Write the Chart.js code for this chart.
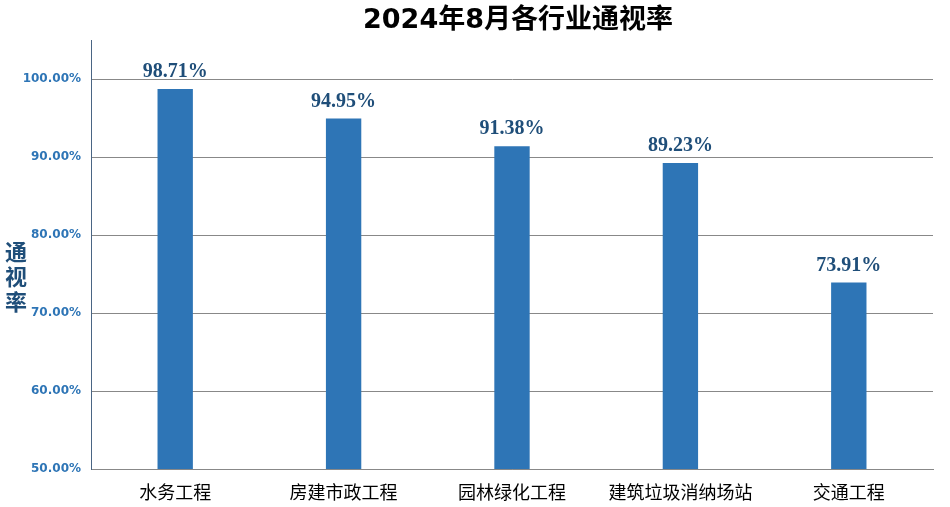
<!DOCTYPE html>
<html>
<head>
<meta charset="utf-8">
<script src="https://cdn.jsdelivr.net/npm/chart.js@4/dist/chart.umd.min.js"></script>
<style>
  html, body { margin: 0; padding: 0; background: #fff; }
  #wrap { width: 950px; height: 507px; }
</style>
</head>
<body>
<div id="wrap"><canvas id="rate"></canvas></div>
<script>
const categories = ["水务工程", "房建市政工程", "园林绿化工程", "建筑垃圾消纳场站", "交通工程"];
const rates = [98.71, 94.95, 91.38, 89.23, 73.91];
const yTicks = [50, 60, 70, 80, 90, 100];
const chartTitle = "2024年8月各行业通视率";

const ctx = document.getElementById("rate").getContext("2d");

// value labels over each bar
const barLabels = {
  id: "barLabels",
  afterDatasetsDraw(chart) {
    const c = chart.ctx;
    const meta = chart.getDatasetMeta(0);
    c.save();
    c.font = "bold 20px 'Liberation Serif'";
    c.fillStyle = "#1F4E79";
    c.textAlign = "center";
    c.textBaseline = "bottom";
    meta.data.forEach((bar, i) => {
      c.fillText(rates[i].toFixed(2) + "%", bar.x, bar.y - 7);
    });
    c.restore();
  },
};

// stacked axis title on the left + chart title (offset to the right like the original)
const extraText = {
  id: "extraText",
  afterDraw(chart) {
    const c = chart.ctx;
    c.save();
    c.font = "bold 22px 'Noto Sans CJK SC'";
    c.fillStyle = "#1F4E79";
    c.textAlign = "center";
    c.textBaseline = "middle";
    ["通", "视", "率"].forEach((ch, i) => {
      c.fillText(ch, 16, 252 + i * 25);
    });
    c.font = "bold 27px 'DejaVu Sans', 'Noto Sans CJK SC'";
    c.fillStyle = "#000";
    c.fillText(chartTitle, 518, 21);
    c.restore();
  },
};

new Chart(ctx, {
  type: "bar",
  data: {
    labels: categories,
    datasets: [
      {
        data: rates,
        backgroundColor: "#2E75B6",
        barPercentage: 0.21,
        categoryPercentage: 1,
      },
    ],
  },
  options: {
    responsive: true,
    maintainAspectRatio: false,
    animation: false,
    layout: { padding: { left: 0, right: 17, top: 40, bottom: 0 } },
    plugins: {
      legend: { display: false },
      tooltip: { enabled: false },
    },
    scales: {
      x: {
        grid: { display: false, drawTicks: false },
        border: { color: "#888" },
        ticks: {
          color: "#000",
          padding: 12,
          font: { family: "'Noto Sans CJK SC'", size: 18 },
        },
        afterFit(scale) { scale.height = 38; },
      },
      y: {
        min: 50,
        max: 105,
        afterBuildTicks(scale) {
          scale.ticks = yTicks.map((v) => ({ value: v }));
        },
        grid: { color: "#888", drawTicks: false },
        border: { color: "#4A6584" },
        ticks: {
          color: "#2E75B6",
          padding: 10,
          font: { family: "'DejaVu Sans'", size: 12, weight: "bold" },
          callback: (v) => v.toFixed(2) + "%",
        },
        afterFit(scale) { scale.width = 91; },
      },
    },
  },
  plugins: [barLabels, extraText],
});
</script>
</body>
</html>
